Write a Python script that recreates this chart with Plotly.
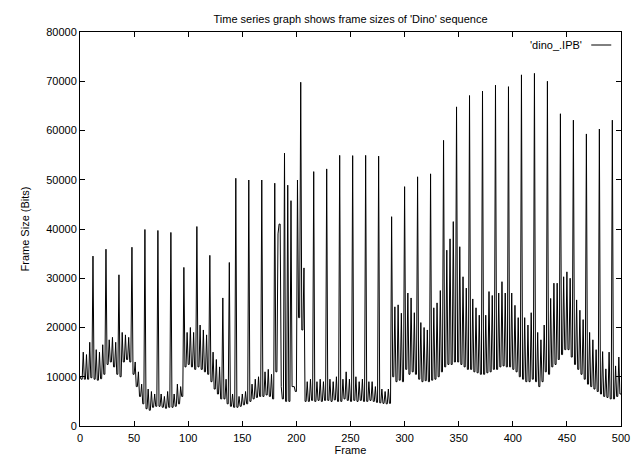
import plotly.graph_objects as go

# Per-GOP values (GOP = 12 frames: I B B P B B P B B P B B)
gop_start = [12 * k for k in range(42)]
i_frames = [10000, 34500, 35900, 30700, 36300, 39900, 39700, 39300, 32200, 40500,
            34650, 26000, 50300, 49950, 49950, 49300, 48900, 69800, 51650, 52200,
            54950, 54900, 54950, 54800, 42500, 48600, 50600, 51200, 58000, 64800,
            67100, 68000, 69200, 68900, 71300, 71600, 70000, 63400, 62100, 59300,
            60300, 62100]
p_frames = [
    [15000, 14500, 17000], [15500, 15000, 16500], [17500, 18000, 17000], [19000, 18500, 18000],
    [13000, 11000, 8500], [7500, 7000, 6500], [6500, 6000, 7000], [6500, 8500, 8000],
    [19000, 20000, 19000], [20500, 19500, 18500], [15000, 13500, 12000], [9500, 33200, 6500],
    [6000, 6500, 7000], [8500, 9500, 10000], [11000, 11500, 10500], [39000, 8000, 55400],
    [45750, 8000, 49950], [32100, 9000, 9500], [9000, 9500, 9000], [9500, 9000, 10000],
    [9500, 11000, 9500], [10000, 9000, 9500], [9000, 9000, 8000], [7500, 7000, 7500],
    [24200, 24600, 22900], [27000, 26000, 23000], [21000, 20000, 19500], [24000, 25000, 27500],
    [35700, 38000, 41500], [36400, 30300, 28000], [25800, 24000, 22500], [22500, 27300, 26500],
    [27000, 29300, 27000], [27000, 24500, 22000], [22000, 20500, 23000], [19000, 17500, 20500],
    [25900, 29000, 29000], [30300, 31300, 30000], [25600, 23500, 21600], [19000, 17500, 15500],
    [15100, 11600, 15000], [12200, 14000, 12000]]
b_frames = [
    [9500, 9500, 9500, 9800], [9500, 9300, 9600, 10500], [12500, 13000, 12000, 10500], [10000, 13000, 13500, 13000],
    [10500, 8000, 6000, 4500], [3500, 3200, 3800, 4000], [4000, 3800, 3600, 3800], [3800, 4000, 4500, 6000],
    [12000, 12500, 12000, 11500], [12000, 11500, 11000, 10500], [9000, 7500, 6500, 5500], [5500, 4500, 4000, 3800],
    [3800, 4000, 4300, 4500], [5000, 5500, 5800, 6000], [6000, 6300, 6000, 5500], [11000, 41000, 5500, 5000],
    [5000, 8000, 7000, 22000], [19500, 5000, 5000, 5200], [5000, 5200, 5000, 5200], [5200, 5000, 5300, 5000],
    [5000, 5500, 5200, 5000], [5200, 5000, 5200, 5000], [5000, 5200, 5000, 4800], [4700, 4600, 4500, 4600],
    [10000, 9000, 9300, 9000], [11500, 10500, 11000, 10500], [9500, 9000, 9200, 9000], [9300, 9500, 10000, 11000],
    [12000, 12500, 12500, 13000], [13000, 12500, 12000, 11500], [11500, 11000, 10800, 10500], [10500, 10800, 11000, 11500],
    [11500, 12000, 12200, 12000], [12000, 11500, 11000, 10000], [9500, 9000, 9000, 9500], [9000, 8000, 9000, 11000],
    [10500, 12000, 12500, 13500], [14500, 15500, 15500, 14000], [12500, 11500, 10500, 9500], [8500, 8000, 7500, 7000],
    [6500, 6000, 5800, 5500], [5500, 6000, 6500, 6000]]
last_frame = 500
series_name = "'dino_.IPB'"

frames, sizes = [], []
for k, start in enumerate(gop_start):
    gop = [i_frames[k], b_frames[k][0], b_frames[k][0]]
    for j in range(3):
        gop += [p_frames[k][j], b_frames[k][j + 1], b_frames[k][j + 1]]
    for n, v in enumerate(gop):
        if start + n <= last_frame:
            frames.append(start + n)
            sizes.append(v)

font = "Liberation Sans, Arial, sans-serif"
fig = go.Figure()
fig.add_trace(go.Scatter(x=frames, y=sizes, mode="lines", name=series_name,
                         line=dict(color="black", width=1), showlegend=False))

axis_common = dict(showline=True, linecolor="black", linewidth=1, mirror="ticks",
                   ticks="inside", ticklen=5, tickcolor="black", showgrid=False,
                   zeroline=False, automargin=False,
                   tickfont=dict(family=font, size=11, color="black"))
fig.update_layout(
    width=631, height=456, autosize=False,
    margin=dict(l=80, r=10, t=32, b=30),
    paper_bgcolor="white", plot_bgcolor="white",
    title=dict(text="Time series graph shows frame sizes of 'Dino' sequence",
               x=0.5555, xanchor="center", y=0.958, yanchor="middle",
               font=dict(family=font, size=11, color="black")),
    xaxis=dict(range=[0, 500], tickmode="linear", tick0=0, dtick=50, ticklabelstandoff=2,
               title=dict(text="Frame", standoff=2, font=dict(family=font, size=11, color="black")),
               **axis_common),
    yaxis=dict(range=[0, 80000], tickmode="linear", tick0=0, dtick=10000, tickformat="d",
               title=dict(text="Frame Size (Bits)", standoff=14, font=dict(family=font, size=11, color="black")),
               **axis_common),
)
# gnuplot-style key: label then line sample on its right
fig.add_annotation(xref="paper", yref="paper", x=0.932, y=0.967, xanchor="right", yanchor="middle",
                   text=series_name, showarrow=False, font=dict(family=font, size=11, color="black"))
fig.add_shape(type="line", xref="paper", yref="paper", x0=0.945, x1=0.982, y0=0.967, y1=0.967,
              line=dict(color="black", width=1))
fig.write_html("out.html")
